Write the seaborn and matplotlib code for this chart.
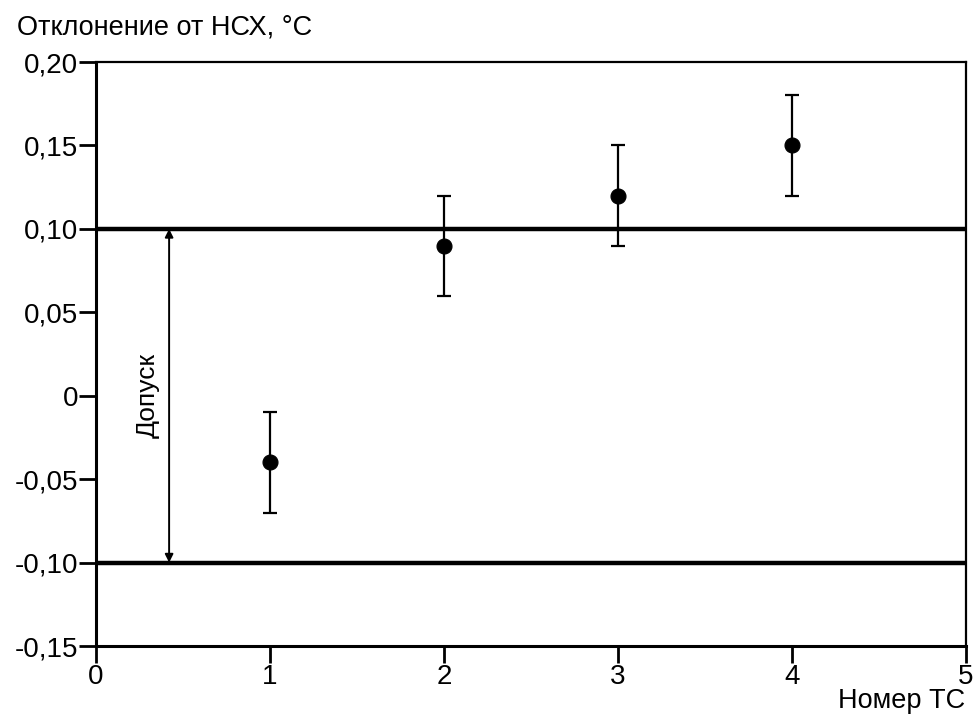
import numpy as np
import pandas as pd
import matplotlib
matplotlib.use("Agg")
import matplotlib.pyplot as plt
from matplotlib.ticker import FuncFormatter
import seaborn as sns

# data
tc_number = [1, 2, 3, 4]
deviation = [-0.04, 0.09, 0.12, 0.15]
uncertainty = [0.03, 0.03, 0.03, 0.03]
tolerance = [-0.10, 0.10]
y_ticks = [-0.15, -0.10, -0.05, 0, 0.05, 0.10, 0.15, 0.20]
x_ticks = [0, 1, 2, 3, 4, 5]

df = pd.DataFrame({"tc": tc_number, "dev": deviation, "err": uncertainty})

sns.set_style("white")
plt.rcParams['font.family'] = ['Liberation Sans', 'DejaVu Sans']
plt.rcParams['text.color'] = 'black'

fig = plt.figure(figsize=(9.77, 7.17), dpi=100)
ax = fig.add_axes([0.0983, 0.099, 0.8904, 0.8145])

# tolerance band limits
for t in tolerance:
    ax.axhline(t, color="black", lw=3.2, zorder=1)

ax.errorbar(df.tc, df.dev, yerr=df.err, fmt="none", ecolor="black",
            elinewidth=1.6, capsize=5, capthick=1.6, zorder=2)
sns.scatterplot(data=df, x="tc", y="dev", ax=ax, color="black", s=115,
                edgecolor="black", zorder=3, legend=False)

# double arrow "Допуск"
ax.annotate("", xy=(0.42, tolerance[1]), xytext=(0.42, tolerance[0]),
            arrowprops=dict(arrowstyle="<|-|>", color="black", lw=1.4,
                            mutation_scale=12, shrinkA=0, shrinkB=0))
ax.text(0.30, 0.0, "Допуск", rotation=90, ha="center", va="center",
        fontsize=19, color="black")

ax.set_xlim(0, 5)
ax.set_ylim(-0.15, 0.20)
ax.set_xticks(x_ticks)
ax.set_yticks(y_ticks)

def comma_fmt(v, pos):
    if abs(v) < 1e-9:
        return "0"
    return "{:.2f}".format(v).replace(".", ",")

ax.yaxis.set_major_formatter(FuncFormatter(comma_fmt))
ax.tick_params(axis="both", direction="out", length=12, width=2,
               labelsize=20, colors="black", pad=1, left=True, bottom=True)
ax.set_xlabel("")
ax.set_ylabel("")

for side in ["left", "bottom"]:
    ax.spines[side].set_linewidth(2.2)
    ax.spines[side].set_color("black")
for side in ["top", "right"]:
    ax.spines[side].set_linewidth(1.6)
    ax.spines[side].set_color("black")

fig.text(0.017, 0.962, "Отклонение от НСХ, °C", fontsize=19.5,
         ha="left", va="center", color="black")
fig.text(0.988, 0.022, "Номер ТС", fontsize=19.5, ha="right", va="center",
         color="black")

plt.savefig("out.png", dpi=100)
